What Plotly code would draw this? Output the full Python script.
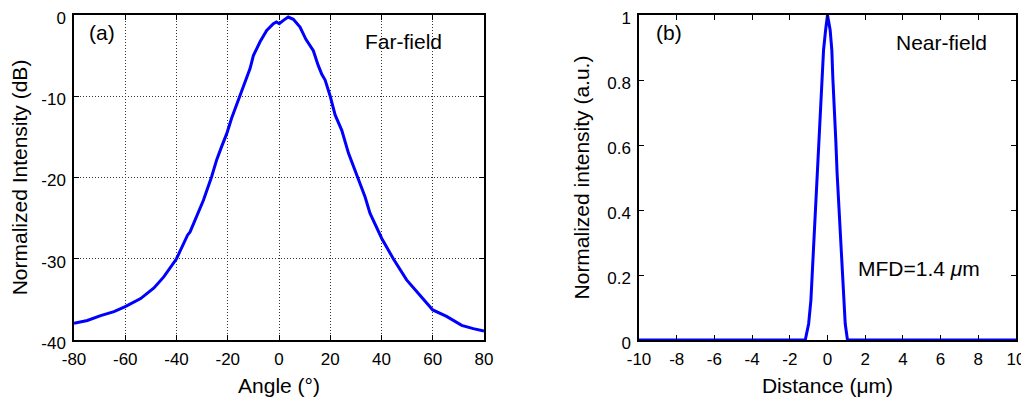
import plotly.graph_objects as go

# Far-field (a)
angle_deg = [-80, -74.8, -69.6, -64.4, -60, -54, -48.8, -44.9, -40, -35.7, -34.7, -30.5, -29.5,
             -26.3, -24.3, -22.4, -20.4, -18.5, -15.2, -11.3, -10.0, -7.4, -4.8, -2.2, -1.0,
             0.1, 1.7, 3.6, 5.6, 8.2, 10.5, 13.4, 15.3, 16.7, 18.0, 19.9, 21.9, 24.5, 27.1,
             30.3, 33.6, 35.5, 40.1, 44.6, 49.8, 55.0, 60, 65.4, 71.3, 75.8, 80]
farfield_db = [-37.95, -37.6, -37.0, -36.5, -35.9, -34.9, -33.6, -32.2, -30.0, -27.1, -26.7,
               -23.6, -22.8, -19.9, -17.8, -16.2, -14.6, -12.7, -9.85, -6.6, -5.0, -3.3, -1.9,
               -1.07, -0.85, -1.07, -0.66, -0.25, -0.53, -1.48, -3.0, -4.4, -6.2, -7.3, -8.0,
               -9.9, -12.3, -14.2, -17.0, -19.7, -22.4, -24.4, -27.5, -30.0, -32.6, -34.5,
               -36.3, -37.1, -38.2, -38.6, -38.9]

# Near-field (b)
distance_um = [-10, -1.18, -1.0, -0.88, -0.8, -0.71, -0.62, -0.53, -0.44, -0.35, -0.27, -0.21,
               -0.1, 0, 0.14, 0.23, 0.28, 0.37, 0.44, 0.51, 0.6, 0.67, 0.76, 0.85, 0.94, 1.06, 10]
nearfield_au = [0, 0, 0.05, 0.123, 0.215, 0.318, 0.41, 0.513, 0.615, 0.718, 0.81, 0.892,
                0.954, 1.0, 0.954, 0.892, 0.81, 0.718, 0.615, 0.513, 0.41, 0.318, 0.215, 0.123,
                0.05, 0, 0]

x1_ticks = [-80, -60, -40, -20, 0, 20, 40, 60, 80]
x1_labels = ["-80", "-60", "-40", "-20", "0", "20", "40", "60", "80"]
y1_ticks = [-40, -30, -20, -10, 0]
y1_labels = ["-40", "-30", "-20", "-10", "0"]
x2_ticks = [-10, -8, -6, -4, -2, 0, 2, 4, 6, 8, 10]
x2_labels = ["-10", "-8", "-6", "-4", "-2", "0", "2", "4", "6", "8", "10"]
y2_ticks = [0, 0.2, 0.4, 0.6, 0.8, 1]
y2_labels = ["0", "0.2", "0.4", "0.6", "0.8", "1"]

FONT = "Arial, Liberation Sans, sans-serif"
BLUE = "#0000FF"

fig = go.Figure()
fig.add_trace(go.Scatter(x=angle_deg, y=farfield_db, mode="lines",
                         line=dict(color=BLUE, width=3), xaxis="x", yaxis="y",
                         showlegend=False))
fig.add_trace(go.Scatter(x=distance_um, y=nearfield_au, mode="lines",
                         line=dict(color=BLUE, width=3), xaxis="x2", yaxis="y2",
                         showlegend=False, cliponaxis=False))

# page body has an 8px default margin, so the figure is offset by 8px
OFF = 8
W, H = 1029, 399
ml, mt = 74 - OFF, 15 - OFF
mr = W - (1016 - OFF)
mb = H - (340 - OFF)
pw = W - ml - mr

common = dict(showline=True, linecolor="black", linewidth=1.5, mirror="allticks",
              ticks="inside", ticklen=5, tickcolor="black", zeroline=False,
              tickfont=dict(family=FONT, size=17, color="black"),
              ticklabelstandoff=3, automargin=False, ticklabeloverflow="allow")
grid = dict(showgrid=True, gridcolor="#333", griddash="1px,2px", gridwidth=1)

fig.update_layout(
    width=W, height=H,
    margin=dict(l=ml, r=mr, t=mt, b=mb, autoexpand=False),
    paper_bgcolor="white", plot_bgcolor="white",
    font=dict(family=FONT, color="black"),
    xaxis=dict(domain=[0, 410 / pw], range=[-80, 80], tickvals=x1_ticks, ticktext=x1_labels,
               title=dict(text="Angle (°)", font=dict(size=21), standoff=10),
               anchor="y", **grid, **common),
    yaxis=dict(domain=[0, 1], range=[-40, 0], tickvals=y1_ticks, ticktext=y1_labels,
               ticklabelshift=3,
               title=dict(text="Normalized Intensity (dB)", font=dict(size=21), standoff=12),
               anchor="x", **grid, **common),
    xaxis2=dict(domain=[(639 - 74) / pw, 1], range=[-10, 10],
                tickvals=x2_ticks, ticktext=x2_labels, showgrid=False,
                title=dict(text="Distance (μm)", font=dict(size=21), standoff=10),
                anchor="y2", **common),
    yaxis2=dict(domain=[0, 1], range=[0, 1], tickvals=y2_ticks, ticktext=y2_labels,
                ticklabelshift=3, showgrid=False,
                title=dict(text="Normalized intensity (a.u.)", font=dict(size=21), standoff=12),
                anchor="x2", **common),
    annotations=[
        dict(x=-74.9, y=-2.2, xref="x", yref="y", text="(a)", showarrow=False,
             xanchor="left", yanchor="middle", font=dict(size=21)),
        dict(x=32.8, y=-3.3, xref="x", yref="y", text="Far-field", showarrow=False,
             xanchor="left", yanchor="middle", font=dict(size=21)),
        dict(x=-9.2, y=0.945, xref="x2", yref="y2", text="(b)", showarrow=False,
             xanchor="left", yanchor="middle", font=dict(size=21)),
        dict(x=3.53, y=0.914, xref="x2", yref="y2", text="Near-field", showarrow=False,
             xanchor="left", yanchor="middle", font=dict(size=21)),
        dict(x=1.51, y=0.2215, xref="x2", yref="y2", text="MFD=1.4 <i>μ</i>m",
             showarrow=False, xanchor="left", yanchor="middle", font=dict(size=21)),
    ],
)

fig.write_html("out.html")
